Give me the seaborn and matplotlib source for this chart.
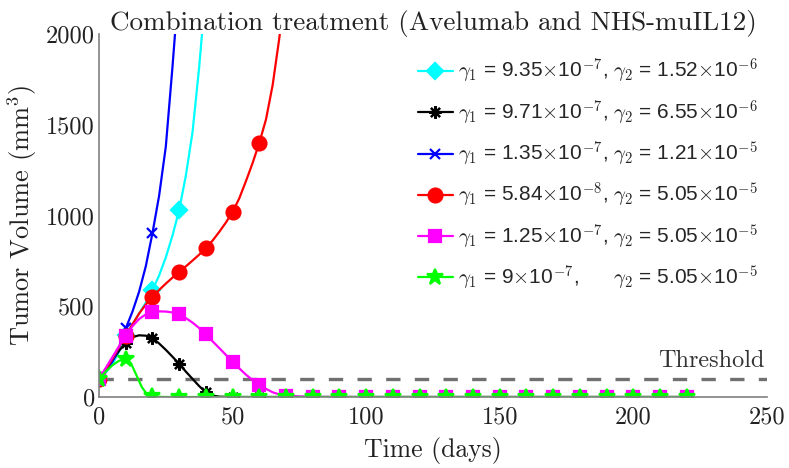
import numpy as np
import pandas as pd
import matplotlib
matplotlib.use("Agg")
import matplotlib.pyplot as plt
import seaborn as sns
from matplotlib.lines import Line2D

# ---------------- data ----------------
cyan_t = [0, 2.5, 5, 7.5, 10, 12.5, 15, 17.5, 20, 22.5, 25, 27.5, 30, 32.5, 35, 37.5, 40]
cyan_v = [100, 135, 180, 250, 340, 400, 460, 520, 590, 670, 770, 890, 1030, 1220, 1460, 1820, 2250]

black_t = [0, 2.5, 5, 7.5, 10, 12.5, 15, 17.5, 20, 22.5, 25, 27.5, 30, 32.5, 35, 37.5, 40, 42.5, 45,
           50, 60, 70, 80, 90, 100, 110, 120, 130, 140, 150, 160, 170, 180, 190, 200, 210, 220]
black_v = [100, 150, 200, 255, 298, 330, 340, 338, 325, 295, 260, 222, 183, 140, 100, 60, 25, 8, 2,
           0, 0, 0, 0, 0, 0, 0, 0, 0, 0, 0, 0, 0, 0, 0, 0, 0, 0]

blue_t = [0, 2.5, 5, 7.5, 10, 12.5, 15, 17.5, 20, 22.5, 25, 27.5, 30]
blue_v = [100, 140, 195, 275, 378, 470, 580, 720, 903, 1110, 1380, 1820, 2300]

red_t = [0, 2.5, 5, 7.5, 10, 12.5, 15, 17.5, 20, 22.5, 25, 27.5, 30, 32.5, 35, 37.5, 40, 42.5, 45,
         47.5, 50, 52.5, 55, 57.5, 60, 62.5, 65, 67.5, 70]
red_v = [100, 150, 210, 275, 338, 400, 460, 510, 551, 590, 625, 658, 690, 720, 752, 785, 822, 862, 910,
         962, 1020, 1095, 1190, 1290, 1401, 1530, 1720, 1980, 2300]

mag_t = [0, 2.5, 5, 7.5, 10, 12.5, 15, 17.5, 20, 22.5, 25, 27.5, 30, 32.5, 35, 37.5, 40, 42.5, 45,
         47.5, 50, 52.5, 55, 57.5, 60, 62.5, 65, 67.5, 70, 75, 80, 90, 100, 110, 120, 130, 140, 150,
         160, 170, 180, 190, 200, 210, 220]
mag_v = [100, 160, 220, 280, 335, 390, 430, 455, 466, 472, 471, 466, 455, 435, 410, 380, 345, 307, 270,
         232, 195, 158, 123, 93, 68, 45, 26, 14, 8, 3, 1, 0, 0, 0, 0, 0, 0, 0,
         0, 0, 0, 0, 0, 0, 0]

green_t = [0, 2.5, 5, 7.5, 10, 12, 14, 16, 18, 20, 22.5, 25, 30, 40, 50, 60, 70, 80, 90, 100, 110,
           120, 130, 140, 150, 160, 170, 180, 190, 200, 210, 220]
green_v = [100, 140, 175, 200, 207, 185, 120, 55, 14, 3, 1, 0, 0, 0, 0, 0, 0, 0, 0, 0, 0,
           0, 0, 0, 0, 0, 0, 0, 0, 0, 0, 0]

labels = [
    r"$\gamma_1$ = 9.35$\times$10$^{-7}$, $\gamma_2$ = 1.52$\times$10$^{-6}$",
    r"$\gamma_1$ = 9.71$\times$10$^{-7}$, $\gamma_2$ = 6.55$\times$10$^{-6}$",
    r"$\gamma_1$ = 1.35$\times$10$^{-7}$, $\gamma_2$ = 1.21$\times$10$^{-5}$",
    r"$\gamma_1$ = 5.84$\times$10$^{-8}$, $\gamma_2$ = 5.05$\times$10$^{-5}$",
    r"$\gamma_1$ = 1.25$\times$10$^{-7}$, $\gamma_2$ = 5.05$\times$10$^{-5}$",
    r"$\gamma_1$ = 9$\times$10$^{-7}$,      $\gamma_2$ = 5.05$\times$10$^{-5}$",
]
threshold = 100
x_ticks = [0, 50, 100, 150, 200, 250]
y_ticks = [0, 500, 1000, 1500, 2000]

# ---------------- styling ----------------
sns.set_theme(style="white")
plt.rcParams["font.family"] = ["Liberation Sans", "DejaVu Sans"]
plt.rcParams["mathtext.fontset"] = "cm"
plt.rcParams["axes.unicode_minus"] = False

series = [
    (cyan_t, cyan_v, "#00FFFF", "D", 8, dict()),
    (black_t, black_v, "black", (8, 2, 0), 9, dict()),
    (blue_t, blue_v, "blue", "x", 7, dict()),
    (red_t, red_v, "red", "o", 10, dict()),
    (mag_t, mag_v, "magenta", "s", 8.5, dict()),
    (green_t, green_v, "#00FF00", "*", 12, dict()),
]

fig = plt.figure(figsize=(7.89, 4.68), dpi=100)
ax = fig.add_axes([0.1255, 0.1517, 0.8465, 0.7753])

# threshold
thr_df = pd.DataFrame({"t": [0, 250], "v": [threshold, threshold]})
sns.lineplot(data=thr_df, x="t", y="v", ax=ax, color="#707070", lw=2.4,
             linestyle=(0, (4.3, 4.3)), legend=False)

handles = []
for (t, v, col, mk, ms, kw), lab in zip(series, labels):
    df = pd.DataFrame({"t": t, "v": v})
    mask = [(float(tt) % 10 == 0) for tt in t]
    sns.lineplot(data=df, x="t", y="v", ax=ax, color=col, lw=1.6, marker=mk,
                 markersize=ms, markevery=mask, markerfacecolor=col,
                 markeredgecolor=col, markeredgewidth=1.6, legend=False,
                 sort=False, estimator=None)
    handles.append(Line2D([0], [0], color=col, lw=1.6, marker=mk, markersize=ms,
                          markerfacecolor=col, markeredgecolor=col, markeredgewidth=1.6))

ax.set_xlim(0, 250)
ax.set_ylim(0, 2000)
ax.set_xticks(x_ticks)
ax.set_yticks(y_ticks)
cm_font = dict(family="cmr10", size=17.5)
ax.set_xticklabels([str(v) for v in x_ticks], fontdict=cm_font, color="#222222")
ax.set_yticklabels([str(v) for v in y_ticks], fontdict=cm_font, color="#222222")
ax.tick_params(direction="in", length=5, width=1, colors="#707070", labelcolor="#222222", pad=3)
ax.tick_params(axis="x", pad=7)
for s in ["top", "right"]:
    ax.spines[s].set_visible(False)
for s in ["left", "bottom"]:
    ax.spines[s].set_color("#808080")
    ax.spines[s].set_linewidth(1.2)

ax.set_xlabel("Time (days)", fontdict=dict(family="cmr10", size=18.5), color="#222222", labelpad=6)
ax.set_ylabel(r"Tumor Volume (mm$^3$)", fontdict=dict(family="cmr10", size=19), color="#222222", labelpad=5)
ax.set_title("Combination treatment (Avelumab and NHS-muIL12)",
             fontdict=dict(family="cmr10", size=19.5), color="#222222", pad=3)

ax.text(249, 140, "Threshold", family="cmr10", fontsize=17.5, color="#333333",
        ha="right", va="bottom")

leg = ax.legend(handles, labels, loc="upper right", bbox_to_anchor=(1.0, 0.962),
                frameon=False, fontsize=15, handlelength=1.65, handletextpad=0.25,
                labelspacing=0.58, borderaxespad=0.05)

fig.savefig("out.png", dpi=100)
